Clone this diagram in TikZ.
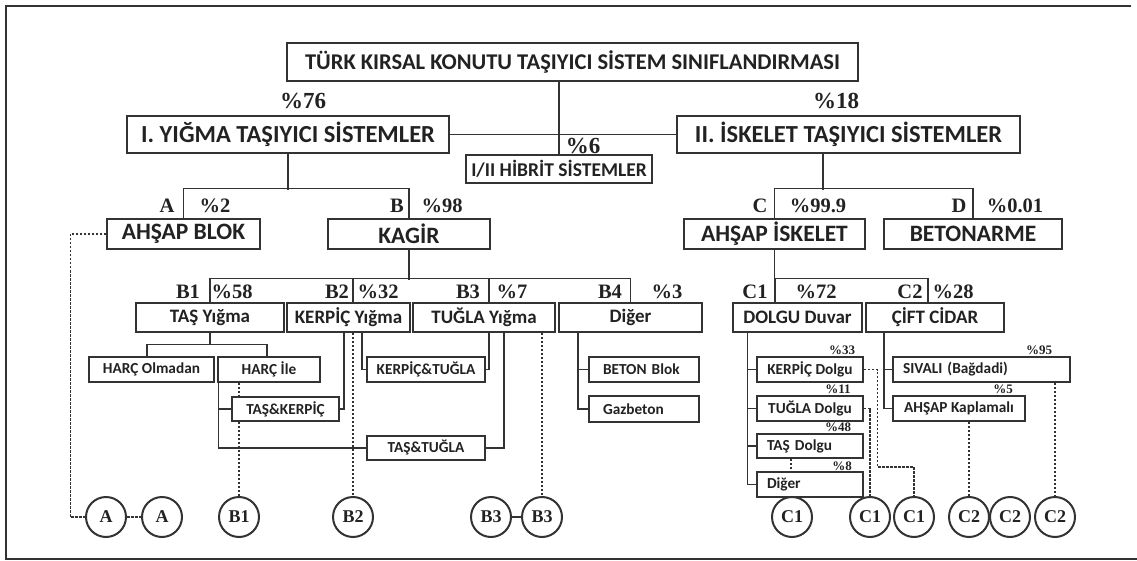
\documentclass[tikz,border=0pt]{standalone}
\usepackage{fontspec}
\setmainfont{Liberation Serif}
\newfontfamily\boxfont{Carlito}
\newcommand{\fsz}[1]{\fontsize{#1}{#1}\selectfont}
\definecolor{lc}{HTML}{333333}
\definecolor{tc}{HTML}{222222}
\tikzset{
  box/.style={draw=lc, line width=1.6pt, fill=white, inner sep=0pt, font=\boxfont\bfseries, text=tc},
  lbox/.style={box, align=left, inner xsep=10pt, inner ysep=0pt},
  lab/.style={font=\bfseries\fsz{20.5}, text=tc, inner sep=0pt},
  blab/.style={font=\bfseries\fsz{23}, text=tc, inner sep=0pt},
  slab/.style={font=\bfseries\fsz{13}, text=tc, inner sep=0pt},
  circ/.style={circle, draw=lc, line width=2pt, minimum size=40pt, inner sep=0pt, font=\bfseries\fsz{18}, text=tc},
  con/.style={draw=lc, line width=1.3pt},
  dsh/.style={draw=lc, line width=1.2pt, dash pattern=on 2.5pt off 1.5pt},
  f4/.style={font=\boxfont\bfseries\fsz{15.3}},
  f3/.style={font=\boxfont\bfseries\fsz{19}},
  f2/.style={font=\boxfont\bfseries\fsz{23.5}}
}
\begin{document}
\begin{tikzpicture}[x=1pt,y=-1pt]
\useasboundingbox (0,0) rectangle (1137,561);
\draw[lc, line width=1.4pt] (1131,6) -- (6,6) -- (6,559) -- (1137,559);
% level 0/1
\node[box, minimum width=571pt, minimum height=38pt, font=\boxfont\bfseries\fsz{22.5}] (title) at (572.5,62) {TÜRK KIRSAL KONUTU TAŞIYICI SİSTEM SINIFLANDIRMASI};
\node[box, minimum width=322pt, minimum height=37pt, font=\boxfont\bfseries\fsz{24.5}] (I) at (288,134.5) {I. YIĞMA TAŞIYICI SİSTEMLER};
\node[box, minimum width=343pt, minimum height=37pt, font=\boxfont\bfseries\fsz{24.5}] (II) at (848.5,134.5) {II. İSKELET TAŞIYICI SİSTEMLER};
\node[box, minimum width=186pt, minimum height=28pt, font=\boxfont\bfseries\fsz{19.5}] (hyb) at (559,169) {I/II HİBRİT SİSTEMLER};
% level 2
\node[box, f2, minimum width=153pt, minimum height=30pt] (ahsap) at (183.5,234) {AHŞAP BLOK};
\node[box, f2, minimum width=162pt, minimum height=30pt] (kagir) at (409,234) {KAGİR};
\node[box, f2, minimum width=181pt, minimum height=30pt] (isk) at (774.5,234) {AHŞAP İSKELET};
\node[box, f2, minimum width=178pt, minimum height=30pt] (beton) at (973,234) {BETONARME};
% level 3
\node[box, f3, minimum width=148pt, minimum height=29pt] (tas) at (210,317.5) {TAŞ Yığma};
\node[box, f3, minimum width=123pt, minimum height=29pt] (kerp) at (348.5,317.5) {KERPİÇ Yığma};
\node[box, f3, minimum width=142pt, minimum height=29pt] (tug) at (484,317.5) {TUĞLA Yığma};
\node[box, f3, minimum width=143pt, minimum height=29pt] (dig) at (630.5,317.5) {Diğer};
\node[box, f3, minimum width=129pt, minimum height=29pt] (dolgu) at (797.5,317.5) {DOLGU Duvar};
\node[box, f3, minimum width=138pt, minimum height=29pt] (cift) at (935,317.5) {ÇİFT CİDAR};
% level 4
\node[box, f4, minimum width=125pt, minimum height=25pt] (harcO) at (151.5,369.5) {HARÇ Olmadan};
\node[box, f4, minimum width=102pt, minimum height=25pt] (harcI) at (269,369.5) {HARÇ İle};
\node[box, f4, minimum width=107pt, minimum height=24pt] (tk) at (285.5,409) {TAŞ\&KERPİÇ};
\node[box, f4, minimum width=118pt, minimum height=25pt] (kt) at (426,369.5) {KERPİÇ\&TUĞLA};
\node[box, f4, minimum width=118pt, minimum height=24pt] (tt) at (426,448) {TAŞ\&TUĞLA};
\node[lbox, f4, inner xsep=14pt, text width=82pt, minimum height=25pt] (bb) at (644,369.5) {BETON Blok};
\node[lbox, f4, inner xsep=14pt, text width=82pt, minimum height=26pt] (gaz) at (644,409) {Gazbeton};
\node[box, f4, minimum width=106pt, minimum height=25pt] (kd) at (810,369.5) {KERPİÇ Dolgu};
\node[box, f4, minimum width=106pt, minimum height=25pt] (td) at (810,408.5) {TUĞLA Dolgu};
\node[lbox, f4, text width=86pt, minimum height=24pt] (sd) at (810,446) {TAŞ Dolgu};
\node[lbox, f4, text width=86pt, minimum height=25pt] (dd) at (810,484.5) {Diğer};
\node[lbox, f4, text width=157pt, minimum height=25pt] (siv) at (981.5,369.5) {SIVALI (Bağdadi)};
\node[box, f4, minimum width=132pt, minimum height=25pt] (ak) at (959,408.5) {AHŞAP Kaplamalı};
% circles
\node[circ] (A1) at (106,517) {A};
\node[circ] (A2) at (162,517) {A};
\node[circ] (cB1) at (239,517) {B1};
\node[circ] (cB2) at (353,517) {B2};
\node[circ] (cB3a) at (491,517) {B3};
\node[circ] (cB3b) at (542,517) {B3};
\node[circ] (cC1a) at (792,517) {C1};
\node[circ] (cC1b) at (870,517) {C1};
\node[circ] (cC1c) at (914,517) {C1};
\node[circ] (cC2a) at (969,517) {C2};
\node[circ] (cC2b) at (1010,517) {C2};
\node[circ] (cC2c) at (1055,517) {C2};
% labels
\node[blab] (p76) at (303,101) {\%76};
\node[blab] (p18) at (836,101) {\%18};
\node[blab] (p6) at (583,146) {\%6};
\node[lab] (lA) at (167,206) {A};
\node[lab] (p2) at (215,206) {\%2};
\node[lab] (lB) at (397,206) {B};
\node[lab] (p98) at (442,206) {\%98};
\node[lab] (lC) at (760,206) {C};
\node[lab] (p999) at (818,206) {\%99.9};
\node[lab] (lD) at (959,206) {D};
\node[lab] (p001) at (1015,206) {\%0.01};
\node[lab] (lB1) at (188,292) {B1};
\node[lab] (p58) at (232,292) {\%58};
\node[lab] (lB2) at (337,292) {B2};
\node[lab] (p32) at (378,292) {\%32};
\node[lab] (lB3) at (468,292) {B3};
\node[lab] (p7) at (512,292) {\%7};
\node[lab] (lB4) at (610,292) {B4};
\node[lab] (p3) at (667,292) {\%3};
\node[lab] (lC1) at (755,292) {C1};
\node[lab] (p72) at (816,292) {\%72};
\node[lab] (lC2) at (910,292) {C2};
\node[lab] (p28) at (953,292) {\%28};
\node[slab] (p33) at (842,350) {\%33};
\node[slab] (p11) at (838,389) {\%11};
\node[slab] (p48) at (838,427) {\%48};
\node[slab] (p8) at (842,466) {\%8};
\node[slab] (p95) at (1039,350) {\%95};
\node[slab] (p5) at (1003,389) {\%5};
% connectors
\draw[con] (hyb.north) -- (hyb.north |- title.south);
\draw[con] (I.east) -- (II.west);
\draw[con] (I.south) -- ++(0,36);
\draw[con] (ahsap.north) -- ++(0,-30) -| (kagir.north);
\draw[con] ([xshift=-25.5pt]II.south) -- ++(0,36);
\draw[con] (isk.north) -- ++(0,-30) -| (beton.north);
\draw[con] (kagir.south) -- ++(0,30);
\draw[con] (tas.north) -- ++(0,-24) -| (dig.north);
\draw[con] ([xshift=4.5pt]kerp.north) -- ++(0,-24);
\draw[con] ([xshift=5pt]tug.north) -- ++(0,-24);
\draw[con] (isk.south) -- ++(0,30);
\draw[con] ([xshift=-22.5pt]dolgu.north) -- ++(0,-24) -| ([xshift=-7pt]cift.north);
\draw[con] (tas.south) -- ++(0,12) coordinate (tj);
\draw[con] ([xshift=-4.5pt]harcO.north) |- (tj) -| ([xshift=-2pt]harcI.north);
\draw[con] ([xshift=1pt]harcI.south west) |- (tt.west);
\draw[con] ([xshift=-13pt]tk.west) -- (tk.west);
\draw[con] ([xshift=13.5pt]kerp.south) |- (kt.west);
\draw[con] ([xshift=-4.5pt]kerp.south) |- (tk.east);
\draw[con] ([xshift=5pt]tug.south) |- (kt.east);
\draw[con] ([xshift=20pt]tug.south) |- (tt.east);
\draw[con] ([xshift=-52.5pt]dig.south) |- (gaz.west);
\draw[con] ([xshift=-11pt]bb.west) -- (bb.west);
\draw[con] ([xshift=15pt]dolgu.south west) |- (dd.west);
\draw[con] ([xshift=-9pt]kd.west) -- (kd.west);
\draw[con] ([xshift=-9pt]td.west) -- (td.west);
\draw[con] ([xshift=-9pt]sd.west) -- (sd.west);
\draw[con] ([xshift=-51pt]cift.south) |- (ak.west);
\draw[con] ([xshift=-9pt]siv.west) -- (siv.west);
\draw[con] (cB3a.east) -- (cB3b.west);
% dashed
\draw[dsh] (ahsap.west) -- ++(-36,0) |- (A1.west);
\draw[dsh] (A1.east) -- (A2.west);
\draw[dsh] (cB1.north |- harcI.south) -- (cB1.north |- tk.north);
\draw[dsh] (cB1.north |- tk.south) -- (cB1.north);
\draw[dsh] (cB2.north |- kerp.south) -- (cB2.north);
\draw[dsh] (cB3b.north |- tug.south) -- (cB3b.north);
\draw[dsh] ([xshift=-19pt]sd.south) -- ([xshift=-19pt]dd.north);
\draw[dsh] (td.east) -| (cC1b.north);
\draw[dsh] (kd.east) -- ++(14,0) |- ([yshift=29pt]cC1c.north) -- (cC1c.north);
\draw[dsh] (cC2a.north |- ak.south) -- (cC2a.north);
\draw[dsh] (cC2c.north |- siv.south) -- (cC2c.north);
\end{tikzpicture}
\end{document}
